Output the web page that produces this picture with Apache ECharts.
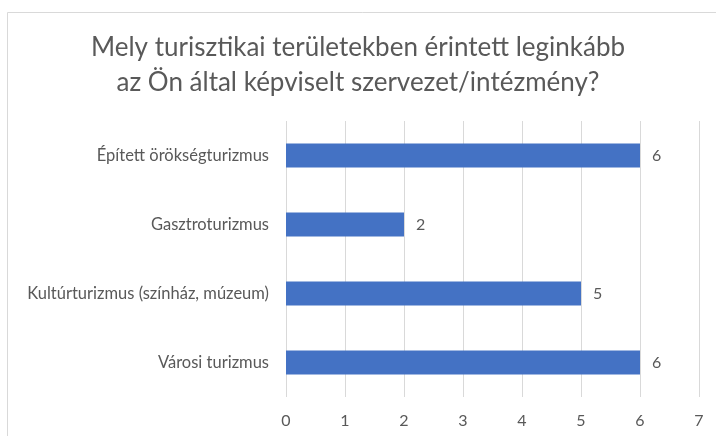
<!DOCTYPE html>
<html>
<head>
<meta charset="utf-8">
<script src="https://cdn.jsdelivr.net/npm/echarts@6/dist/echarts.min.js"></script>
<style>
  html, body { margin: 0; padding: 0; background: #ffffff; }
  #chart { width: 716px; height: 436px; }
</style>
</head>
<body>
<div id="chart"></div>
<script>
// Survey categories (top to bottom as shown) and response counts
const categories = [
  'Épített örökségturizmus',
  'Gasztroturizmus',
  'Kultúrturizmus (színház, múzeum)',
  'Városi turizmus'
];
const counts = [6, 2, 5, 6];
const titleLines = [
  'Mely turisztikai területekben érintett leginkább',
  'az Ön által képviselt szervezet/intézmény?'
];

const FONT = 'Lato, "Open Sans", sans-serif';
const TEXT = '#595959';

const chart = echarts.init(document.getElementById('chart'), null, { renderer: 'canvas' });

chart.setOption({
  animation: false,
  backgroundColor: '#ffffff',
  graphic: [{
    type: 'rect',
    shape: { x: 7.5, y: 12.5, width: 760, height: 480 },
    style: { fill: 'none', stroke: '#d9d9d9', lineWidth: 1 },
    silent: true
  }],
  title: {
    text: titleLines.join('\n'),
    left: 'center',
    top: 25,
    textStyle: {
      fontFamily: FONT,
      fontSize: 26,
      fontWeight: 'normal',
      color: TEXT,
      lineHeight: 35
    }
  },
  grid: { left: 286, right: 17, top: 121, bottom: 39 },
  xAxis: {
    type: 'value',
    min: 0,
    max: 7,
    interval: 1,
    axisLine: { show: false },
    axisTick: { show: false },
    splitLine: { show: true, lineStyle: { color: '#d9d9d9', width: 1 } },
    axisLabel: { fontFamily: FONT, fontSize: 16, color: TEXT, margin: 16 }
  },
  yAxis: {
    type: 'category',
    inverse: true,
    data: categories,
    axisLine: { show: false },
    axisTick: { show: false },
    axisLabel: { fontFamily: FONT, fontSize: 16.5, color: TEXT, margin: 17 }
  },
  series: [{
    type: 'bar',
    data: counts,
    barWidth: 24,
    itemStyle: { color: '#4472c4' },
    label: {
      show: true,
      position: 'right',
      distance: 12,
      fontFamily: FONT,
      fontSize: 16,
      color: TEXT
    }
  }]
});
</script>
</body>
</html>
